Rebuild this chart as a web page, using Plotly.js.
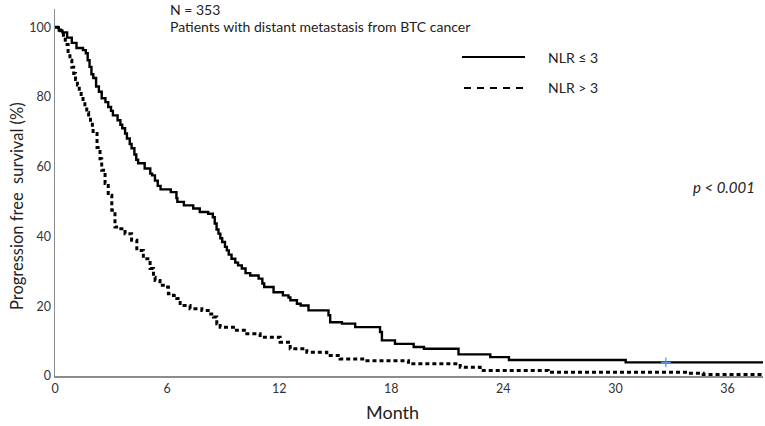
<!DOCTYPE html>
<html>
<head>
<meta charset="utf-8">
<script src="https://cdn.plot.ly/plotly-3.0.1.min.js"></script>
<style>html,body{margin:0;padding:0;background:#fff;}#chart{width:765px;height:426px;}</style>
</head>
<body>
<div id="chart"></div>
<script>
// NLR <= 3 (solid) Kaplan-Meier steps: time (months) and survival (%)
var lowTime = [0,0.2,0.4,0.65,0.9,1.15,1.5,1.65,1.75,1.85,1.95,2.05,2.2,2.35,2.5,2.7,2.85,3.0,3.1,3.35,3.5,3.6,3.75,3.85,4.0,4.1,4.25,4.35,4.45,4.8,5.1,5.2,5.35,5.5,5.65,6.2,6.5,6.55,6.9,7.4,7.75,8.2,8.45,8.55,8.65,8.75,8.85,8.95,9.1,9.2,9.3,9.45,9.65,9.8,10.0,10.2,10.45,10.9,11.1,11.2,11.7,12.2,12.5,12.6,12.95,13.15,13.57,14.64,14.73,15.36,16.07,17.4,17.5,18.2,19.2,19.75,21.6,23.3,24.3,30.55,37.9];
var lowSurv = [100,99,98.5,97,95.5,94,93.4,92.5,90.5,88.6,86.5,85.4,83,81.5,79.6,78.5,77.1,76,74.7,73.3,72,71,69.5,68.1,66.5,65.3,63.5,62,61,59.5,58,57.5,56,54.5,53.5,52.7,51,49.9,48.9,48,47,46.5,45.5,43.7,42,40.8,39.5,38.4,37,36,34.8,33.6,32.5,31.7,30.8,29.5,28.8,27.9,26.5,25.5,24,23.1,22.5,21.7,20.7,20.2,18.8,17.4,15.4,15.0,14.0,12.6,10.2,9.2,8.3,7.8,6.2,5.4,4.6,3.9,3.9];
// NLR > 3 (dashed)
var highTime = [0,0.3,0.45,0.55,0.7,0.8,0.9,1.0,1.1,1.2,1.3,1.4,1.5,1.6,1.7,1.8,1.9,2.0,2.04,2.25,2.41,2.5,2.68,2.85,3.04,3.21,3.39,3.75,4.1,4.38,4.73,5.09,5.27,5.36,5.62,5.8,6.07,6.34,6.52,6.7,7.23,7.86,8.2,8.48,8.66,8.84,9.55,10.27,10.98,12.05,12.59,13.48,14.55,15.26,16.7,18.92,21.69,22.76,26.4,33.9,34.7,37.9];
var highSurv = [100,99,97,95,92.5,90.5,88.5,86.7,85,83.4,81.5,80,78.5,77.1,75.5,74.3,72.8,71.4,69.5,65.5,62.3,59,55.2,51.8,47.5,42.7,42.2,40.8,38.9,36,33.6,30.8,28.3,27.4,26,25.5,23.6,23.1,22.2,20.2,19.3,18.8,17.8,16.9,15.0,14.0,13.1,12.1,11.1,9.7,7.8,6.8,5.9,4.9,4.4,3.5,2.5,1.6,1.1,0.8,0.4,0.4];
// censor mark (blue cross) on NLR <= 3
var censorTime = [32.7];
var censorSurv = [3.9];

var xTicks = [0,6,12,18,24,30,36];
var yTicks = [0,20,40,60,80,100];
var seriesNames = ['NLR ≤ 3','NLR > 3'];

var FONT = 'Lato, "Open Sans", sans-serif';

var traces = [
  {x: lowTime, y: lowSurv, type:'scatter', mode:'lines', line:{shape:'hv', color:'#000', width:2.4}, name: seriesNames[0], showlegend:false, hoverinfo:'skip'},
  {x: highTime, y: highSurv, type:'scatter', mode:'lines', line:{shape:'hv', color:'#000', width:3, dash:'4px,3px'}, name: seriesNames[1], showlegend:false, hoverinfo:'skip'},
  {x: censorTime, y: censorSurv, type:'scatter', mode:'markers', marker:{symbol:'cross-thin-open', size:7, color:'#5b8fd6', line:{width:1.2, color:'#5b8fd6'}}, showlegend:false, hoverinfo:'skip'}
];

function px(x){ return (x-55)/708; }
function py(y){ return (376-y)/367; }

var layout = {
  width:765, height:426,
  margin:{l:55, r:2, t:9, b:50},
  paper_bgcolor:'#fff', plot_bgcolor:'#fff',
  showlegend:false,
  font:{family:FONT, color:'#222'},
  xaxis:{range:[0,37.9], tickvals:xTicks, ticktext:xTicks.map(String), showgrid:false, zeroline:false,
    showline:true, linecolor:'#8c8c8c', linewidth:1.5, ticks:'', tickfont:{size:12.5, color:'#333'}},
  yaxis:{range:[0,105.2], tickvals:yTicks, ticktext:yTicks.map(String), showgrid:false, zeroline:false,
    showline:true, linecolor:'#8c8c8c', linewidth:1.5, ticks:'', tickfont:{size:12.5, color:'#333'}},
  shapes:[
    {type:'line', xref:'paper', yref:'paper', x0:px(462), x1:px(525), y0:py(57), y1:py(57), line:{color:'#000', width:2}},
    {type:'line', xref:'paper', yref:'paper', x0:px(464), x1:px(525), y0:py(88), y1:py(88), line:{color:'#000', width:2, dash:'7px,6px'}}
  ],
  annotations:[
    {xref:'paper', yref:'paper', x:px(392), y:py(412), xanchor:'center', yanchor:'middle', text:'Month', showarrow:false, font:{size:18, color:'#222'}},
    {xref:'paper', yref:'paper', x:px(17), y:py(206), xanchor:'center', yanchor:'middle', textangle:-90, text:'Progression free  survival (%)', showarrow:false, font:{size:16.5, color:'#222'}},
    {xref:'paper', yref:'paper', x:px(168), y:py(9), xanchor:'left', yanchor:'middle', text:'N = 353', showarrow:false, font:{size:14, color:'#222'}},
    {xref:'paper', yref:'paper', x:px(168), y:py(27), xanchor:'left', yanchor:'middle', text:'Patients with distant metastasis from BTC cancer', showarrow:false, font:{size:14, color:'#222'}},
    {xref:'paper', yref:'paper', x:px(546), y:py(58), xanchor:'left', yanchor:'middle', text:seriesNames[0], showarrow:false, font:{size:14, color:'#222'}},
    {xref:'paper', yref:'paper', x:px(546), y:py(88), xanchor:'left', yanchor:'middle', text:seriesNames[1], showarrow:false, font:{size:14, color:'#222'}},
    {xref:'paper', yref:'paper', x:px(757), y:py(187), xanchor:'right', yanchor:'middle', text:'<i>p < 0.001</i>', showarrow:false, font:{size:15, color:'#222'}}
  ]
};

Plotly.newPlot('chart', traces, layout, {staticPlot:true, displayModeBar:false});
</script>
</body>
</html>
